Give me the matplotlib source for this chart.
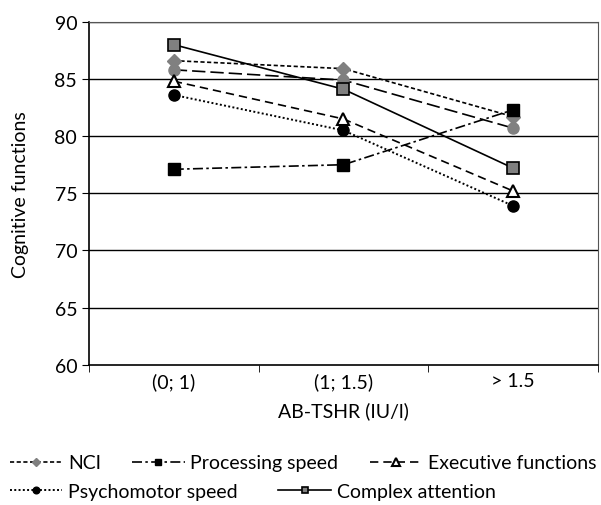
import numpy as np
import matplotlib
matplotlib.use('Agg')
import matplotlib.pyplot as plt

plt.rcParams['font.family'] = ['Lato', 'DejaVu Sans']

groups = ['(0; 1)', '(1; 1.5)', '> 1.5']
nci = [86.6, 85.9, 81.7]
memory = [85.8, 84.9, 80.7]
processing = [77.1, 77.5, 82.3]
executive = [84.8, 81.5, 75.2]
psychomotor = [83.6, 80.5, 73.9]
complexAtt = [88.0, 84.1, 77.2]

x = np.arange(len(groups))

fig = plt.figure(figsize=(6.01, 5.06), dpi=100)
ax = fig.add_axes([0.148, 0.277, 0.847, 0.678])

for yv in [65, 70, 75, 80, 85, 90]:
    ax.axhline(yv, color='black', lw=1.0, zorder=0)

ax.plot(x, memory, color='black', ls=(0, (8, 3)), lw=1.2, marker='o', ms=8,
        mfc='#808080', mec='#808080')
ax.plot(x, nci, color='black', ls=(0, (2.5, 1.5)), lw=1.2, marker='D', ms=7.5,
        mfc='#808080', mec='#808080', label='NCI')
ax.plot(x, processing, color='black', ls=(0, (6, 2, 1.5, 2)), lw=1.2, marker='s', ms=8,
        mfc='black', mec='black', label='Processing speed')
ax.plot(x, executive, color='black', ls=(0, (5, 3)), lw=1.2, marker='^', ms=9,
        mfc='white', mec='black', mew=1.5, label='Executive functions')
ax.plot(x, psychomotor, color='black', ls=(0, (1, 1.2)), lw=1.4, marker='o', ms=8,
        mfc='black', mec='black', label='Psychomotor speed')
ax.plot(x, complexAtt, color='black', ls='-', lw=1.2, marker='s', ms=8,
        mfc='#808080', mec='black', mew=1.2, label='Complex attention')

fs = 14
ax.set_xlim(-0.5, 2.5)
ax.set_ylim(60, 90)
ax.set_yticks([60, 65, 70, 75, 80, 85, 90])
ax.set_xticks(x)
ax.set_xticklabels(groups)
ax.set_xticks([-0.5, 0.5, 1.5, 2.5], minor=True)
ax.tick_params(axis='x', which='major', length=0, pad=5, labelsize=fs)
ax.tick_params(axis='x', which='minor', length=5, direction='out')
ax.tick_params(axis='y', length=5, direction='out', labelsize=fs)
for s in ['left', 'bottom', 'right', 'top']:
    ax.spines[s].set_color('black')
ax.spines['top'].set_color('#555555')
ax.spines['right'].set_color('#555555')
ax.spines['left'].set_linewidth(1.2)
ax.spines['bottom'].set_linewidth(1.2)

ax.set_xlabel('AB-TSHR (IU/l)', fontsize=fs, labelpad=8)
ax.set_ylabel('Cognitive functions', fontsize=fs, labelpad=18)

h, l = ax.get_legend_handles_labels()
legkw = dict(frameon=False, fontsize=14, markerscale=0.6, handlelength=2.7,
             handletextpad=0.3, borderpad=0, borderaxespad=0)
fig.legend(h[:3], l[:3], ncol=3, loc='upper left', bbox_to_anchor=(0.016, 0.1),
           columnspacing=1.6, **legkw)
fig.legend(h[3:], l[3:], ncol=2, loc='upper left', bbox_to_anchor=(0.016, 0.044),
           columnspacing=2.1, **legkw)

fig.savefig('out.png', dpi=100)
